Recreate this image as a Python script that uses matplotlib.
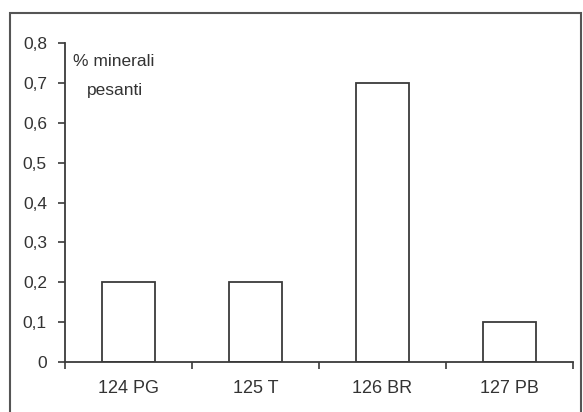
import matplotlib
matplotlib.use("Agg")
import matplotlib.pyplot as plt
from matplotlib.patches import Rectangle

# Data
campioni = ["124 PG", "125 T", "126 BR", "127 PB"]
minerali_pesanti = [0.2, 0.2, 0.7, 0.1]
y_ticks = [0, 0.1, 0.2, 0.3, 0.4, 0.5, 0.6, 0.7, 0.8]

plt.rcParams["font.family"] = ["Liberation Sans", "DejaVu Sans"]

fig = plt.figure(figsize=(5.83, 4.12), dpi=100)
# axes box measured in pixels: x 65..573, y 43..362
ax = fig.add_axes([65 / 583, 1 - 362 / 412, 508 / 583, 319 / 412])

x = list(range(len(campioni)))
ax.bar(x, minerali_pesanti, width=0.41, facecolor="white",
       edgecolor="#3a3a3a", linewidth=1.3)

ax.set_xlim(-0.5, len(campioni) - 0.5)
ax.set_ylim(0, 0.8)
ax.set_yticks(y_ticks)
ax.set_yticklabels([("%.1f" % v).replace(".", ",") if v else "0" for v in y_ticks],
                   fontsize=12.5, color="#333333")

# Excel-style category ticks between groups, labels centred
ax.set_xticks([i - 0.5 for i in range(len(campioni) + 1)])
ax.set_xticklabels([])
ax.set_xticks(x, minor=True)
ax.set_xticklabels(campioni, minor=True, fontsize=13, color="#333333")
ax.tick_params(axis="x", which="minor", length=0, pad=13)
ax.tick_params(axis="x", which="major", length=5, direction="out",
               color="#3a3a3a", width=1.2)
ax.tick_params(axis="y", length=5, direction="out", color="#3a3a3a",
               width=1.2, pad=8)

for side in ["top", "right"]:
    ax.spines[side].set_visible(False)
for side in ["left", "bottom"]:
    ax.spines[side].set_color("#3a3a3a")
    ax.spines[side].set_linewidth(1.3)

ax.text(73 / 583, 1 - 61 / 412, "% minerali", transform=fig.transFigure,
        fontsize=12.5, va="center", ha="left", color="#333333")
ax.text(87 / 583, 1 - 91 / 412, "pesanti", transform=fig.transFigure,
        fontsize=12.5, va="center", ha="left", color="#333333")

# outer chart frame
fig.patches.append(Rectangle((10 / 583, -0.02), 571 / 583, 1 - 13 / 412 + 0.02,
                             transform=fig.transFigure, fill=False,
                             edgecolor="#555555", linewidth=1.5))

fig.savefig("out.png", dpi=100)
